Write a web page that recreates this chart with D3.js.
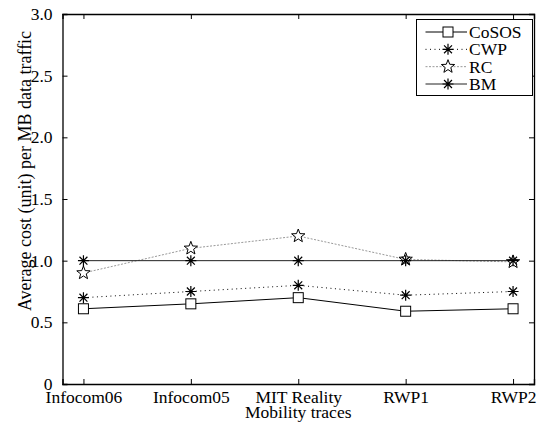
<!DOCTYPE html>
<html lang="en">
<head>
<meta charset="UTF-8">
<title>Average cost per MB</title>
<script src="https://d3js.org/d3.v7.min.js"></script>
<style>
  body { margin: 0; background: #fff; }
  svg text { font-family: "Liberation Serif", "Times New Roman", serif; fill: #000; }
</style>
</head>
<body>
<svg id="chart" width="544" height="425"></svg>
<script>
// data
var categories = ["Infocom06", "Infocom05", "MIT Reality", "RWP1", "RWP2"];
var cososVals = [0.61, 0.65, 0.70, 0.59, 0.61];
var cwpVals   = [0.70, 0.75, 0.80, 0.72, 0.75];
var rcVals    = [0.90, 1.10, 1.20, 1.01, 0.99];
var bmVals    = [1.00, 1.00, 1.00, 1.00, 1.00];
var seriesNames = ["CoSOS", "CWP", "RC", "BM"];
var yTicks = [0, 0.5, 1.0, 1.5, 2.0, 2.5, 3.0];

var svg = d3.select("#chart");
var plotLeft = 62.5, plotRight = 534, plotTop = 14, plotBottom = 384;

var x = d3.scalePoint().domain(categories).range([plotLeft, plotRight]).padding(0.195);
var y = d3.scaleLinear().domain([0, 3]).range([plotBottom, plotTop]);

// series styles
var series = [
  { name: "CoSOS", vals: cososVals, stroke: "#000", dash: null, marker: "square" },
  { name: "CWP", vals: cwpVals, stroke: "#000", dash: "1,3.5", marker: "asterisk" },
  { name: "RC", vals: rcVals, stroke: "#999", dash: "2,1.5", marker: "star" },
  { name: "BM", vals: bmVals, stroke: "#222", dash: null, marker: "asterisk" }
];

// markers
function asteriskPath(r) {
  var d = r * 0.72;
  return "M" + (-r) + ",0L" + r + ",0M0," + (-r) + "L0," + r +
         "M" + (-d) + "," + (-d) + "L" + d + "," + d +
         "M" + (-d) + "," + d + "L" + d + "," + (-d);
}
function starPath(r) {
  var pts = [];
  for (var i = 0; i < 10; i++) {
    var a = -Math.PI / 2 + i * Math.PI / 5;
    var rr = i % 2 === 0 ? r : r * 0.42;
    pts.push([rr * Math.cos(a), rr * Math.sin(a)]);
  }
  return "M" + pts.map(function(p) { return p[0].toFixed(2) + "," + p[1].toFixed(2); }).join("L") + "Z";
}
function drawMarker(g, type, cx, cy) {
  if (type === "square") {
    g.append("rect").attr("x", cx - 5).attr("y", cy - 5).attr("width", 10).attr("height", 10)
      .attr("fill", "#fff").attr("stroke", "#000").attr("stroke-width", 1);
  } else if (type === "asterisk") {
    g.append("path").attr("d", asteriskPath(5.5)).attr("transform", "translate(" + cx + "," + cy + ")")
      .attr("fill", "none").attr("stroke", "#000").attr("stroke-width", 1.2);
  } else {
    g.append("path").attr("d", starPath(7)).attr("transform", "translate(" + cx + "," + cy + ")")
      .attr("fill", "#fff").attr("stroke", "#000").attr("stroke-width", 1);
  }
}

// axes (box with inward ticks)
var xAxis = d3.axisBottom(x).tickSize(-5);
var yAxis = d3.axisLeft(y).tickValues(yTicks).tickSize(-5).tickPadding(10)
  .tickFormat(function(d) { return d === 0 ? "0" : d3.format(".1f")(d); });

var gx = svg.append("g").attr("transform", "translate(0," + plotBottom + ")").call(xAxis);
gx.selectAll("text").attr("font-size", "17.5px").attr("y", 18.5).attr("dy", 0);
var gy = svg.append("g").attr("transform", "translate(" + plotLeft + ",0)").call(yAxis);
gy.selectAll("text").attr("font-size", "17.5px");

svg.append("g").attr("transform", "translate(0," + plotTop + ")")
  .call(d3.axisTop(x).tickSize(-5).tickFormat(""));
svg.append("g").attr("transform", "translate(" + plotRight + ",0)")
  .call(d3.axisRight(y).tickValues(yTicks).tickSize(-5).tickFormat(""));

svg.selectAll(".domain").attr("stroke", "#000").attr("stroke-width", 1.3);
svg.selectAll(".tick line").attr("stroke", "#000");

// lines
var line = d3.line().x(function(d, i) { return x(categories[i]); }).y(function(d) { return y(d); });
series.forEach(function(s) {
  svg.append("path").datum(s.vals)
    .attr("d", line)
    .attr("fill", "none")
    .attr("stroke", s.stroke)
    .attr("stroke-width", 1)
    .attr("stroke-dasharray", s.dash);
});
series.forEach(function(s) {
  var g = svg.append("g");
  s.vals.forEach(function(v, i) { drawMarker(g, s.marker, x(categories[i]), y(v)); });
});

// axis titles
svg.append("text")
  .attr("x", x("MIT Reality")).attr("y", 418)
  .attr("text-anchor", "middle").attr("font-size", "17.5px")
  .text("Mobility traces");
svg.append("text")
  .attr("transform", "translate(30.5,171) rotate(-90)")
  .attr("text-anchor", "middle").attr("font-size", "18px")
  .text("Average cost (unit) per MB data traffic");

// legend
var legend = svg.append("g");
legend.append("rect").attr("x", 416.5).attr("y", 19.5).attr("width", 116).attr("height", 76)
  .attr("fill", "#fff").attr("stroke", "#000").attr("stroke-width", 1);
var rowY = d3.scalePoint().domain(seriesNames).range([32, 84]);
series.forEach(function(s) {
  var ry = rowY(s.name);
  legend.append("line").attr("x1", 425.5).attr("x2", 467).attr("y1", ry).attr("y2", ry)
    .attr("stroke", s.stroke).attr("stroke-width", 1).attr("stroke-dasharray", s.dash);
  drawMarker(legend, s.marker, 448, ry);
  legend.append("text").attr("x", 469).attr("y", ry).attr("dy", "0.35em")
    .attr("font-size", "17.5px").text(s.name);
});
</script>
</body>
</html>
